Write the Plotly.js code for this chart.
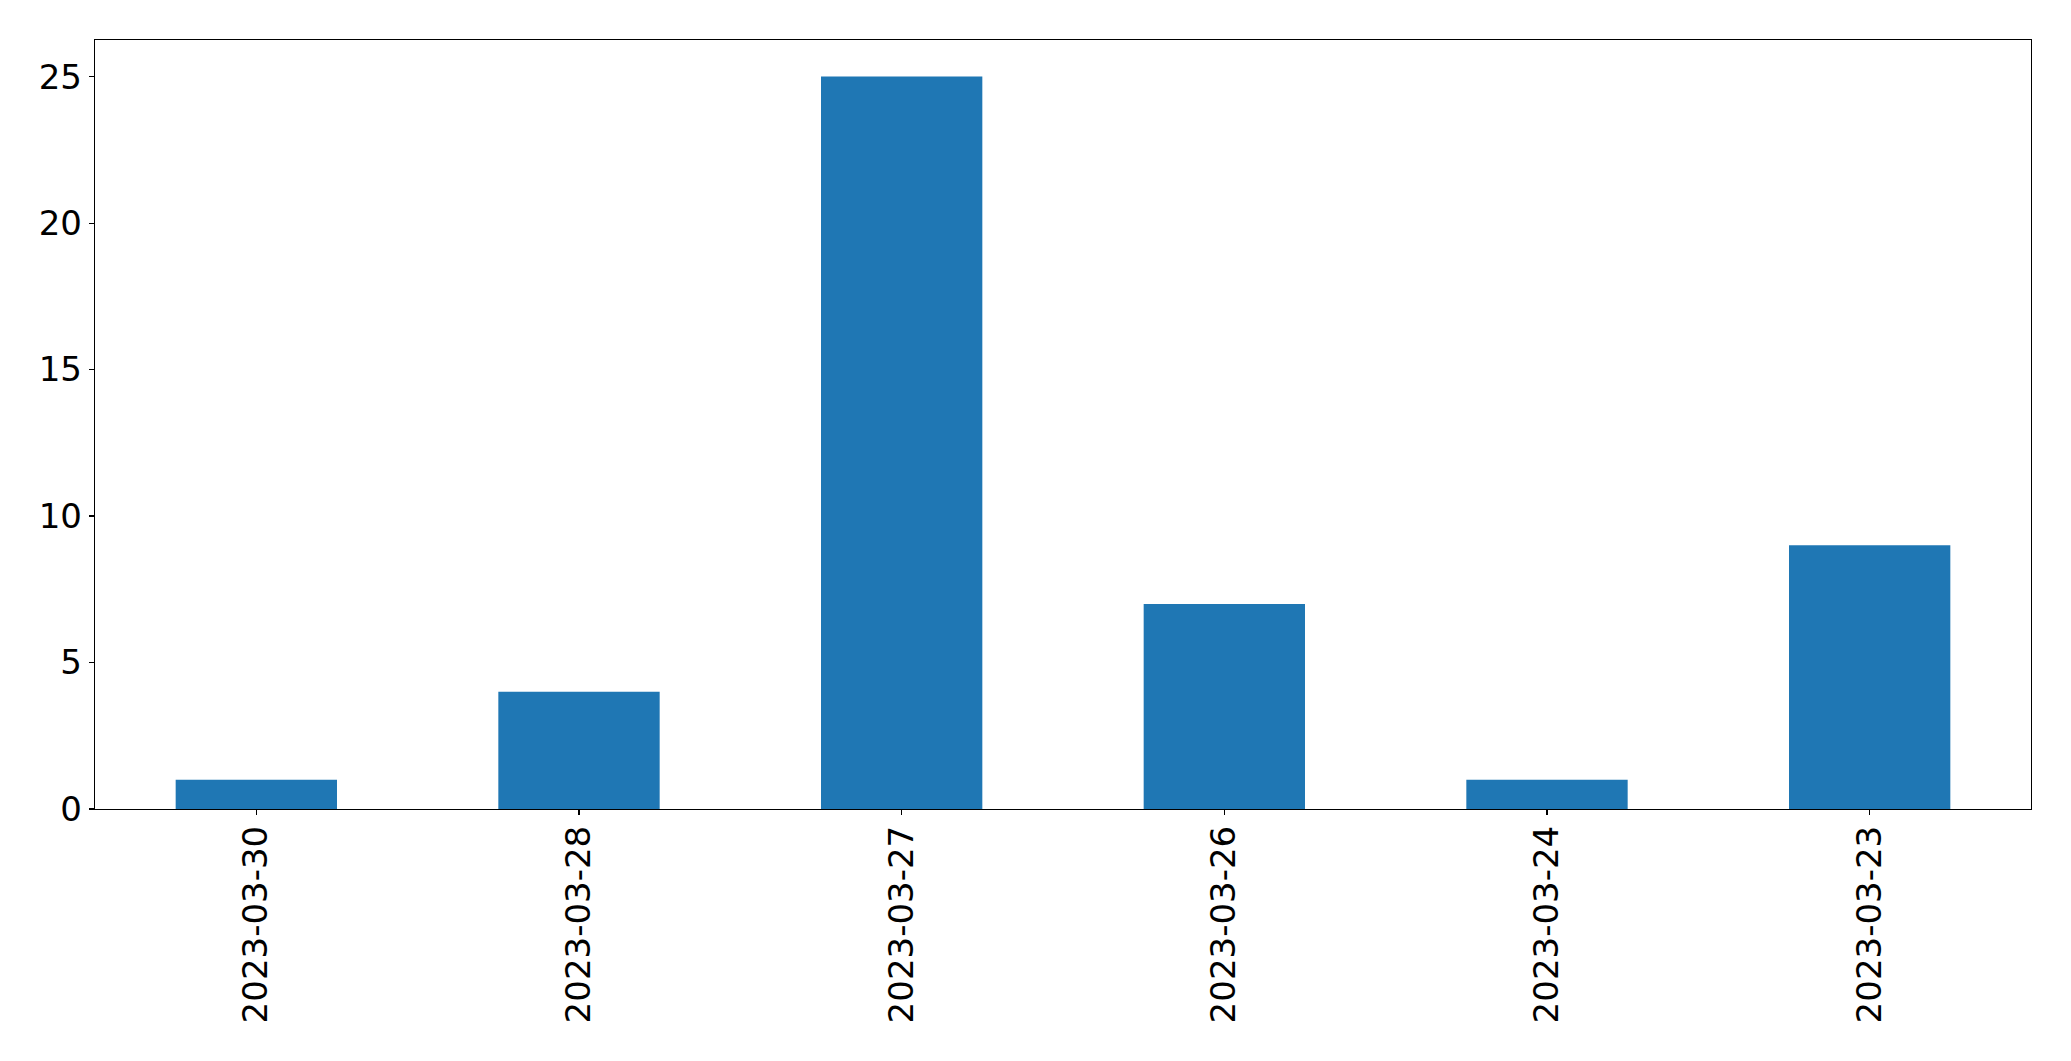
<!DOCTYPE html>
<html>
<head>
<meta charset="utf-8">
<script src="https://cdn.plot.ly/plotly-3.0.1.min.js"></script>
<style>html,body{margin:0;padding:0;background:#fff;}#chart{width:2071px;height:1061px;}</style>
</head>
<body>
<div id="chart"></div>
<script>
const categories = ["2023-03-30", "2023-03-28", "2023-03-27", "2023-03-26", "2023-03-24", "2023-03-23"];
const counts = [1, 4, 25, 7, 1, 9];
const yTickVals = [0, 5, 10, 15, 20, 25];

const trace = {
  type: "bar",
  x: categories,
  y: counts,
  width: 0.5,
  marker: {color: "#1f77b4", line: {width: 0}},
  hoverinfo: "x+y"
};

const layout = {
  width: 2071,
  height: 1061,
  autosize: false,
  margin: {l: 94.5, r: 39.5, t: 39.5, b: 252, pad: 0},
  paper_bgcolor: "#ffffff",
  plot_bgcolor: "#ffffff",
  showlegend: false,
  font: {family: "DejaVu Sans", size: 34, color: "#000000"},
  xaxis: {
    type: "category",
    range: [-0.5, 5.5],
    tickangle: -90,
    ticks: "outside",
    ticklen: 5,
    tickwidth: 1.2,
    tickcolor: "#000",
    showline: true,
    linecolor: "#000",
    linewidth: 1.2,
    mirror: true,
    showgrid: false,
    zeroline: false,
    ticklabelstandoff: -3,
    tickfont: {family: "DejaVu Sans", size: 34, color: "#000"}
  },
  yaxis: {
    range: [0, 26.25],
    tickvals: yTickVals,
    ticktext: yTickVals.map(String),
    ticks: "outside",
    ticklen: 5,
    tickwidth: 1.2,
    tickcolor: "#000",
    showline: true,
    linecolor: "#000",
    linewidth: 1.2,
    mirror: true,
    showgrid: false,
    zeroline: false,
    tickfont: {family: "DejaVu Sans", size: 34, color: "#000"}
  }
};

Plotly.newPlot("chart", [trace], layout, {displayModeBar: false, staticPlot: true});
</script>
</body>
</html>
